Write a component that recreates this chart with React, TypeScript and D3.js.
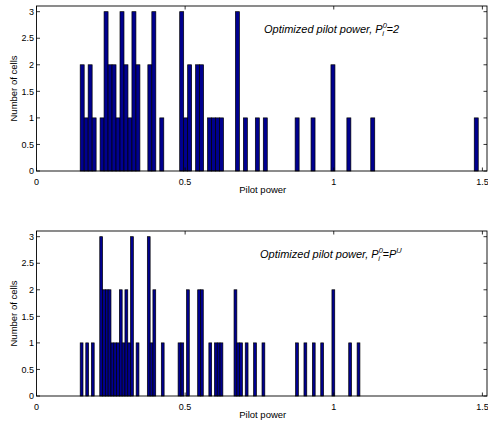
import React, { useRef, useEffect } from "react";
import * as d3 from "d3";

// histogram layout: 100 bins between the min and max pilot power
const nBins = 100;
const topRange = [0.147, 1.486];
const bottomRange = [0.147, 1.088];

// non-empty bins (index) and their counts
const topBins = [0, 1, 2, 3, 5, 6, 7, 8, 9, 10, 11, 12, 13, 14, 17, 18, 20, 25, 26, 27, 29, 30, 32, 33, 34, 35, 39, 41, 44, 46, 54, 58, 63, 67, 73, 99];
const topCounts = [2, 1, 2, 1, 1, 3, 2, 2, 1, 3, 2, 1, 3, 2, 2, 3, 1, 3, 1, 2, 2, 2, 1, 1, 1, 1, 3, 1, 1, 1, 1, 1, 2, 1, 1, 1];

const bottomBins = [0, 2, 4, 7, 8, 9, 10, 11, 12, 13, 14, 15, 16, 17, 18, 20, 24, 25, 26, 29, 35, 36, 38, 42, 43, 46, 48, 49, 50, 55, 56, 57, 59, 62, 65, 77, 80, 83, 86, 90, 96, 99];
const bottomCounts = [1, 1, 1, 3, 2, 2, 2, 1, 1, 1, 2, 1, 2, 1, 3, 1, 3, 1, 2, 1, 1, 1, 2, 2, 2, 1, 1, 1, 1, 2, 1, 1, 1, 1, 1, 1, 1, 1, 1, 2, 1, 1];

const xTicks = [0, 0.5, 1, 1.5];
const yTicks = [0, 0.5, 1, 1.5, 2, 2.5, 3];
const xDomain = [0, 1.5155];
const yDomain = [0, 3.107];

const font = "'Liberation Sans', Arial, Helvetica, sans-serif";

const drawPanel = (svg, top, range, bins, counts, titleEnd) => {
  const left = 36.5,
    right = 487,
    height = 165,
    bottom = top + height;

  const x = d3.scaleLinear().domain(xDomain).range([left, right]);
  const y = d3.scaleLinear().domain(yDomain).range([bottom, top]);
  // bin index -> pilot power edge
  const edge = d3.scaleLinear().domain([0, nBins]).range(range);

  const g = svg.append("g");

  // bars
  g.selectAll("rect.bar")
    .data(bins.map((b, i) => ({ b, c: counts[i] })))
    .enter()
    .append("rect")
    .attr("class", "bar")
    .attr("x", (d) => x(edge(d.b)))
    .attr("width", (d) => x(edge(d.b + 1)) - x(edge(d.b)))
    .attr("y", (d) => y(d.c))
    .attr("height", (d) => y(0) - y(d.c))
    .attr("fill", "#00008f")
    .attr("stroke", "#000")
    .attr("stroke-width", 0.7);

  // box
  g.append("rect")
    .attr("x", left)
    .attr("y", top)
    .attr("width", right - left)
    .attr("height", height)
    .attr("fill", "none")
    .attr("stroke", "#000")
    .attr("stroke-width", 0.9);

  const tick = 3.5;
  // x ticks, inward on bottom and top
  xTicks.forEach((t) => {
    g.append("line")
      .attr("x1", x(t)).attr("x2", x(t))
      .attr("y1", bottom).attr("y2", bottom - tick)
      .attr("stroke", "#000").attr("stroke-width", 0.8);
    g.append("line")
      .attr("x1", x(t)).attr("x2", x(t))
      .attr("y1", top).attr("y2", top + tick)
      .attr("stroke", "#000").attr("stroke-width", 0.8);
    g.append("text")
      .attr("x", x(t))
      .attr("y", bottom + 13.5)
      .attr("text-anchor", "middle")
      .style("font-size", "9px")
      .style("font-family", font)
      .text(String(t));
  });

  // y ticks, inward on left and right
  yTicks.forEach((t) => {
    g.append("line")
      .attr("x1", left).attr("x2", left + tick)
      .attr("y1", y(t)).attr("y2", y(t))
      .attr("stroke", "#000").attr("stroke-width", 0.8);
    g.append("line")
      .attr("x1", right).attr("x2", right - tick)
      .attr("y1", y(t)).attr("y2", y(t))
      .attr("stroke", "#000").attr("stroke-width", 0.8);
    g.append("text")
      .attr("x", left - 2.5)
      .attr("y", y(t) + 3.2)
      .attr("text-anchor", "end")
      .style("font-size", "9px")
      .style("font-family", font)
      .text(String(t));
  });

  g.append("text")
    .attr("x", (left + right) / 2 + 1)
    .attr("y", bottom + 22)
    .attr("text-anchor", "middle")
    .style("font-size", "9.5px")
    .style("font-family", font)
    .text("Pilot power");

  g.append("text")
    .attr("transform", `translate(17, ${(top + bottom) / 2}) rotate(-90)`)
    .attr("text-anchor", "middle")
    .style("font-size", "9.5px")
    .style("font-family", font)
    .text("Number of cells");

  // title with stacked sub/superscript
  const title = g.append("text")
    .attr("x", titleEnd.x)
    .attr("y", top + 26.5)
    .style("font-size", "11px")
    .style("font-style", "italic")
    .style("font-family", font);
  title.append("tspan").text("Optimized pilot power, P");
  title.append("tspan").attr("dy", -4.5).style("font-size", "7.5px").text("0");
  title.append("tspan").attr("dx", -4.6).attr("dy", 8).style("font-size", "7.5px").text("i");
  titleEnd.parts(title);
};

const App = () => {
  const svgRef = useRef(null);

  useEffect(() => {
    const svg = d3.select(svgRef.current);
    svg.selectAll("*").remove();

    drawPanel(svg, 6, topRange, topBins, topCounts, {
      x: 264,
      parts: (t) => {
        t.append("tspan").attr("dx", 2.6).attr("dy", -3.5).text("=2");
      },
    });

    drawPanel(svg, 231, bottomRange, bottomBins, bottomCounts, {
      x: 260,
      parts: (t) => {
        t.append("tspan").attr("dx", 2.6).attr("dy", -3.5).text("=P");
        t.append("tspan").attr("dy", -4.5).style("font-size", "7.5px").text("U");
      },
    });
  }, []);

  return (
    <svg
      ref={svgRef}
      width={488}
      height={424}
      style={{ position: "absolute", left: 0, top: 0, background: "#fff" }}
    ></svg>
  );
};

export default App;
